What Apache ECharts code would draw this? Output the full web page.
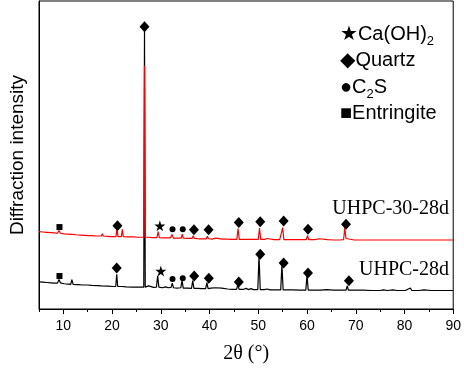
<!DOCTYPE html>
<html>
<head>
<meta charset="utf-8">
<script src="https://cdn.jsdelivr.net/npm/echarts@6/dist/echarts.min.js"></script>
<style>
  html, body { margin: 0; padding: 0; background: #fff; }
  #xrdChart { width: 464px; height: 369px; }
</style>
</head>
<body>
<div id="xrdChart"></div>
<script>
// x tick values (2θ) and labels
const majorTicks = [10, 20, 30, 40, 50, 60, 70, 80, 90];
const minorTicks = [5, 15, 25, 35, 45, 55, 65, 75, 85];

// UHPC-28d pattern, [2θ, intensity]
const uhpc28d = [
  [5,8.8],[5.8,8.7],[6.6,8.6],[7.4,8.5],[8.2,8.4],[8.8,8.4],[9.1,9.6],[9.4,8.5],[10.2,8.2],[11.0,8.1],
  [11.5,8.0],[11.75,9.5],[12.0,8.0],[13.0,7.9],[14.0,7.8],[15.0,7.8],[15.8,7.7],[16.0,8.1],[16.2,7.7],[17.0,7.6],
  [17.8,7.5],[18.0,8.0],[18.2,7.5],[19.2,7.4],[20.2,7.3],[20.75,7.3],[20.95,11.3],[21.15,7.3],[22.0,7.3],[22.9,7.2],
  [23.1,7.6],[23.3,7.2],[24.3,7.1],[25.3,7.1],[25.6,7.4],[25.8,7.1],[26.2,7.3],[26.5,7.1],[26.65,90.6],[26.8,7.1],
  [27.2,7.0],[27.5,7.5],[27.8,7.0],[28.5,7.0],[29.1,7.1],[29.35,10.8],[29.6,7.1],[30.3,6.9],[31.0,7.2],[31.5,6.9],
  [32.1,7.0],[32.35,8.4],[32.6,6.9],[33.3,6.8],[34.1,6.9],[34.35,9.2],[34.6,6.8],[35.5,6.8],[36.3,6.7],[36.55,9.2],
  [36.8,6.7],[37.6,6.7],[38.4,6.6],[39.2,6.6],[39.45,8.6],[39.7,6.6],[40.3,6.8],[40.6,6.5],[41.2,6.9],[41.5,6.5],
  [42.5,6.8],[42.8,6.5],[43.7,6.5],[44.6,6.4],[45.55,6.4],[45.8,8.0],[46.05,6.4],[47.0,6.4],[47.5,6.7],[48.0,6.3],
  [48.5,6.6],[49.0,6.3],[49.9,6.3],[50.15,17.3],[50.4,6.3],[51.2,6.3],[51.8,6.5],[52.4,6.2],[53.5,6.2],[54.6,6.2],
  [54.85,14.4],[55.1,6.2],[56.0,6.2],[57.2,6.2],[58.5,6.1],[59.75,6.1],[60.0,11.0],[60.25,6.1],[61.5,6.1],[62.8,6.1],
  [64.0,6.3],[64.2,6.1],[65.5,6.1],[66.8,6.1],[68.0,6.1],[68.25,7.5],[68.5,6.1],[69.8,6.1],[71.5,6.1],[73.3,6.0],
  [75.0,6.0],[75.7,6.2],[76.5,6.0],[77.6,6.2],[78.5,6.0],[80.2,6.0],[81.2,6.8],[81.5,6.0],[83.0,6.0],[84.0,6.2],
  [85.5,6.0],[87.0,6.0],[88.5,6.0],[90,6.0]
];

// UHPC-30-28d pattern, [2θ, intensity]
const uhpc3028d = [
  [5,25.1],[5.8,25.0],[6.6,24.9],[7.4,24.8],[8.2,24.7],[8.8,24.6],[9.1,25.5],[9.4,24.6],[10.2,24.4],[11.0,24.3],
  [11.8,24.2],[12.6,24.1],[13.5,24.0],[14.4,23.9],[15.2,23.8],[15.8,23.8],[16.0,24.3],[16.2,23.8],[17.0,23.7],[17.8,23.7],
  [18.0,24.4],[18.2,23.7],[19.0,23.6],[19.8,23.5],[20.8,23.5],[21.0,26.1],[21.2,23.5],[21.9,23.5],[22.1,25.9],[22.3,23.5],
  [23.0,23.4],[23.1,23.9],[23.3,23.4],[24.3,23.4],[25.2,23.3],[25.6,23.7],[25.8,23.3],[26.2,23.6],[26.5,23.3],[26.65,79.0],
  [26.8,23.3],[27.5,23.3],[28.3,23.2],[29.2,23.2],[29.45,25.1],[29.7,23.2],[30.5,23.1],[31.2,23.1],[32.0,23.1],[32.3,24.2],
  [32.6,23.0],[33.4,23.0],[34.2,23.0],[34.4,24.3],[34.6,23.0],[35.5,22.9],[36.4,22.9],[36.65,23.8],[36.9,22.9],[37.8,22.8],
  [38.7,22.8],[39.35,22.8],[39.55,23.6],[39.8,22.8],[40.5,22.7],[41.3,23.0],[41.6,22.7],[42.6,22.7],[43.6,22.7],[44.6,22.6],
  [45.6,22.6],[45.85,26.1],[46.1,22.6],[46.9,22.6],[47.1,23.0],[47.4,22.6],[48.4,22.6],[49.4,22.6],[50.0,22.6],[50.25,26.3],
  [50.5,22.6],[51.3,22.6],[51.8,22.9],[52.1,22.6],[53.2,22.5],[54.4,22.5],[54.75,22.5],[55.0,26.4],[55.25,22.5],[56.2,22.5],
  [56.5,22.8],[56.8,22.5],[57.8,22.5],[59.0,22.5],[59.85,22.5],[60.1,23.9],[60.35,22.5],[61.5,22.5],[62.6,22.8],[62.9,22.5],
  [64.2,22.5],[65.5,22.4],[66.8,22.4],[67.5,22.5],[67.75,26.3],[68.0,22.9],[68.4,22.4],[69.7,22.4],[71.3,22.4],[73.0,22.4],
  [75.0,22.4],[77.0,22.4],[79.0,22.4],[81.0,22.4],[83.0,22.4],[85.0,22.4],[87.0,22.4],[89.0,22.4],[90,22.4]
];

// phase markers, [2θ, intensity]
const caOH2Marks = [[30.0,12.3],[29.8,27.0]];
const quartzMarks = [
  [20.95,13.3],[26.65,91.6],[36.85,10.7],[39.85,10.0],[46.0,8.8],[50.4,17.8],[55.2,14.9],[60.2,11.7],[68.6,9.2],
  [21.1,27.0],[36.8,25.7],[39.8,25.7],[46.0,28.1],[50.4,28.3],[55.2,28.6],[60.2,25.9],[68.0,27.5]
];
const c2sMarks = [[32.4,9.7],[34.5,10.0],[32.4,25.9],[34.5,25.9]];
const ettringiteMarks = [[9.2,10.7],[9.2,26.6]];

const starPath = "path://M50,0 L61,35 L98,35 L68,57 L79,91 L50,70 L21,91 L32,57 L2,35 L39,35 Z";
const sans = "'Liberation Sans', Arial, 'DejaVu Sans', sans-serif";
const serif = "'Liberation Serif', 'Times New Roman', serif";

const chart = echarts.init(document.getElementById("xrdChart"));

const markSeries = (data, symbol, size) => ({
  type: "scatter",
  data: data,
  symbol: symbol,
  symbolSize: size,
  itemStyle: { color: "#000", opacity: 1 },
  z: 5,
  silent: true,
});

chart.setOption({
  animation: false,
  backgroundColor: "#fff",
  grid: {
    left: 36,
    right: 8,
    top: 1,
    bottom: 59,
    show: true,
    borderColor: "#000",
    borderWidth: 1,
  },
  xAxis: [
    {
      type: "value",
      min: 5,
      max: 90,
      name: "2θ (°)",
      nameLocation: "middle",
      nameGap: 35,
      nameTextStyle: { fontFamily: serif, fontSize: 20, color: "#000" },
      axisLine: { show: true, lineStyle: { color: "#000", width: 1 } },
      axisTick: { show: true, customValues: majorTicks, length: 5, lineStyle: { color: "#000" } },
      axisLabel: {
        customValues: majorTicks,
        margin: 10,
        fontFamily: sans,
        fontSize: 14,
        color: "#000",
      },
      splitLine: { show: false },
    },
    {
      type: "value",
      min: 5,
      max: 90,
      position: "bottom",
      axisLine: { show: false },
      axisTick: { show: true, customValues: minorTicks, length: 3, lineStyle: { color: "#000" } },
      axisLabel: { show: false },
      splitLine: { show: false },
    },
  ],
  yAxis: {
    type: "value",
    min: 0,
    max: 100,
    name: "Diffraction intensity",
    nameLocation: "middle",
    nameGap: 12,
    nameTextStyle: { fontFamily: sans, fontSize: 19, color: "#000" },
    axisLine: { show: true, lineStyle: { color: "#000", width: 1 } },
    axisTick: { show: false },
    axisLabel: { show: false },
    splitLine: { show: false },
  },
  graphic: [
    {
      type: "text",
      left: 340,
      top: 21,
      style: {
        text: "★Ca(OH){sub|2}\n◆Quartz\n●C{sub|2}S\n■Entringite",
        font: "20px " + sans,
        fill: "#000",
        lineHeight: 26.5,
        rich: {
          sub: { fontSize: 13, fontFamily: sans, verticalAlign: "bottom", lineHeight: 20 },
        },
      },
    },
    {
      type: "text",
      right: 15,
      top: 199,
      style: { text: "UHPC-30-28d", font: "20px " + serif, fill: "#000" },
    },
    {
      type: "text",
      right: 15,
      top: 260,
      style: { text: "UHPC-28d", font: "20px " + serif, fill: "#000" },
    },
  ],
  series: [
    {
      name: "UHPC-28d",
      type: "line",
      data: uhpc28d,
      showSymbol: false,
      lineStyle: { color: "#000", width: 1.2 },
      z: 2,
    },
    {
      name: "UHPC-30-28d",
      type: "line",
      data: uhpc3028d,
      showSymbol: false,
      lineStyle: { color: "#ff0000", width: 1.2 },
      z: 3,
    },
    markSeries(caOH2Marks, starPath, 11),
    markSeries(quartzMarks, "diamond", [10, 11]),
    markSeries(c2sMarks, "circle", 6),
    markSeries(ettringiteMarks, "rect", 6),
  ],
});

window.addEventListener("resize", () => {
  chart.resize();
});
</script>
</body>
</html>
